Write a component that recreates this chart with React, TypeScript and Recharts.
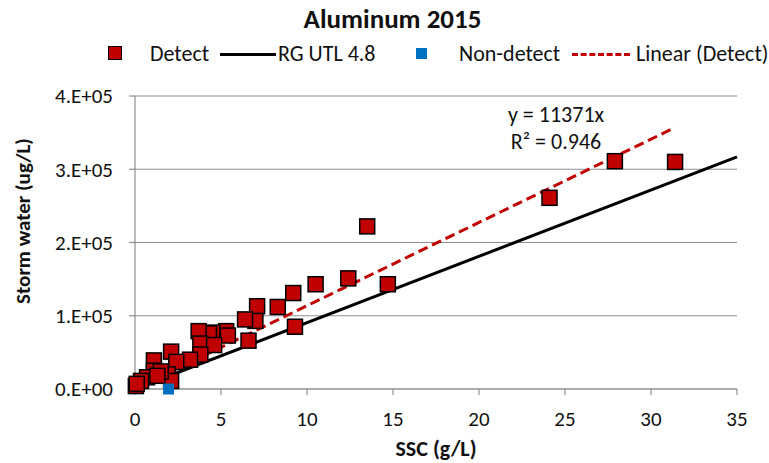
import React from "react";
import { ScatterChart, Scatter, XAxis, YAxis, CartesianGrid, Legend, Label } from "recharts";

// Detect samples: SSC (g/L) and aluminum (ug/L)
const detectSSC = [
  31.4, 27.9, 24.1, 14.7, 13.5, 12.4, 10.5, 9.2, 9.3, 8.3, 7.1, 7.0, 6.4, 6.6, 5.3, 5.4, 4.5,
  4.3, 3.7, 3.8, 4.6, 3.8, 3.2, 2.1, 2.4, 1.1, 1.1, 1.9, 2.1, 0.7, 0.35, 0.05, 0.1, 1.5, 1.3
];
const detectAl = [
  310000, 311000, 261000, 143000, 222000, 151000, 143000, 131000, 85000, 112000, 113000, 93000,
  95000, 66000, 79000, 73000, 77000, 76000, 79000, 62000, 60000, 47000, 40000, 51000, 37000,
  39000, 25000, 20000, 11000, 16000, 11000, 4000, 7000, 24000, 18000
];

const nonDetectSSC = [1.95];
const nonDetectAl = [0];

// RG UTL 4.8 line end points
const utlSSC = [0, 35];
const utlAl = [0, 317000];

// Linear (Detect) trend end points, y = 11371x
const trendSSC = [0, 31.4];
const trendAl = [0, 357000];

const xTicks = [0, 5, 10, 15, 20, 25, 30, 35];
const yTicks = [0, 100000, 200000, 300000, 400000];

const toPoints = (xs: number[], ys: number[]) => xs.map((x, i) => ({ x, y: ys[i] }));

const detectData = toPoints(detectSSC, detectAl);
const nonDetectData = toPoints(nonDetectSSC, nonDetectAl);
const utlData = toPoints(utlSSC, utlAl);
const trendData = toPoints(trendSSC, trendAl);

const FONT = "Carlito, Lato, 'Open Sans', sans-serif";

const RedSquare = (props: any) => {
  const { cx, cy } = props;
  return <rect x={cx - 7.5} y={cy - 7.5} width={15} height={15} fill="#C00000" stroke="#000" strokeWidth={1.5} />;
};

const BlueSquare = (props: any) => {
  const { cx, cy } = props;
  return <rect x={cx - 5.5} y={cy - 5.5} width={11} height={11} fill="#0070C0" />;
};

const NoMark = () => <g />;

const yFormat = (v: number) => {
  if (v === 0) return "0.E+00";
  const exp = Math.floor(Math.log10(v));
  return `${Math.round(v / Math.pow(10, exp))}.E+${String(exp).padStart(2, "0")}`;
};

const legendText: React.CSSProperties = {
  position: "absolute",
  top: 0,
  fontSize: 22,
  color: "#111",
  lineHeight: "24px",
  whiteSpace: "nowrap"
};

const ChartLegend = () => (
  <div style={{ position: "relative", width: 769, height: 24, fontFamily: FONT }}>
    <div style={{ position: "absolute", left: 108, top: 4, width: 12, height: 12, background: "#C00000", border: "1.5px solid #000" }} />
    <span style={{ ...legendText, left: 150 }}>Detect</span>
    <div style={{ position: "absolute", left: 220, top: 11, width: 56, height: 3, background: "#000" }} />
    <span style={{ ...legendText, left: 278 }}>RG UTL 4.8</span>
    <div style={{ position: "absolute", left: 416, top: 6, width: 11, height: 11, background: "#0070C0" }} />
    <span style={{ ...legendText, left: 459 }}>Non-detect</span>
    <div style={{ position: "absolute", left: 572, top: 11, width: 58, height: 3, borderTop: "3px dashed #C00000", boxSizing: "border-box" }} />
    <span style={{ ...legendText, left: 636 }}>Linear (Detect)</span>
  </div>
);

export default function App() {
  return (
    <div style={{ position: "absolute", left: 0, top: 0, width: 769, height: 463, background: "#fff", fontFamily: FONT }}>
      <div style={{ position: "absolute", top: 2, left: 0, width: 785, textAlign: "center", fontSize: 27, fontWeight: 700, color: "#111" }}>
        Aluminum 2015
      </div>
      <ScatterChart width={769} height={463} margin={{ top: 72, right: 32, left: 0, bottom: 44 }}>
        <CartesianGrid vertical={false} stroke="#8f8f8f" strokeWidth={1.2} />
        <XAxis
          type="number"
          dataKey="x"
          domain={[0, 35]}
          ticks={xTicks}
          height={30}
          stroke="#8f8f8f"
          strokeWidth={1.2}
          tickSize={6}
          tickMargin={16}
          tick={{ fill: "#111", fontSize: 21, fontFamily: FONT }}
        >
          <Label
            content={() => (
              <text x={436} y={456} textAnchor="middle" fontSize={22} fontWeight={700} fill="#111" fontFamily={FONT}>
                SSC (g/L)
              </text>
            )}
          />
        </XAxis>
        <YAxis
          type="number"
          dataKey="y"
          domain={[0, 400000]}
          ticks={yTicks}
          width={135}
          stroke="#8f8f8f"
          strokeWidth={1.2}
          tickSize={6}
          tickMargin={16}
          tickFormatter={yFormat}
          tick={{ fill: "#111", fontSize: 21, fontFamily: FONT }}
        >
          <Label
            content={() => (
              <text
                x={30}
                y={221}
                transform="rotate(-90 30 221)"
                textAnchor="middle"
                fontSize={21}
                fontWeight={700}
                fill="#111"
                fontFamily={FONT}
              >
                Storm water (ug/L)
              </text>
            )}
          />
        </YAxis>
        <Legend verticalAlign="top" content={() => <ChartLegend />} wrapperStyle={{ top: 42, left: 0, width: 769 }} />
        <Scatter
          name="RG UTL 4.8"
          data={utlData}
          line={{ stroke: "#000", strokeWidth: 3 }}
          lineType="joint"
          shape={NoMark}
          isAnimationActive={false}
        />
        <Scatter
          name="Linear (Detect)"
          data={trendData}
          line={{ stroke: "#C00000", strokeWidth: 3, strokeDasharray: "10 5" }}
          lineType="joint"
          shape={NoMark}
          isAnimationActive={false}
        />
        <Scatter name="Detect" data={detectData} shape={RedSquare} isAnimationActive={false} />
        <Scatter name="Non-detect" data={nonDetectData} shape={BlueSquare} isAnimationActive={false} />
      </ScatterChart>
      <div style={{ position: "absolute", left: 476, top: 101, width: 160, textAlign: "center", fontSize: 22, lineHeight: "27px", color: "#111" }}>
        y = 11371x
        <br />
        R² = 0.946
      </div>
    </div>
  );
}
